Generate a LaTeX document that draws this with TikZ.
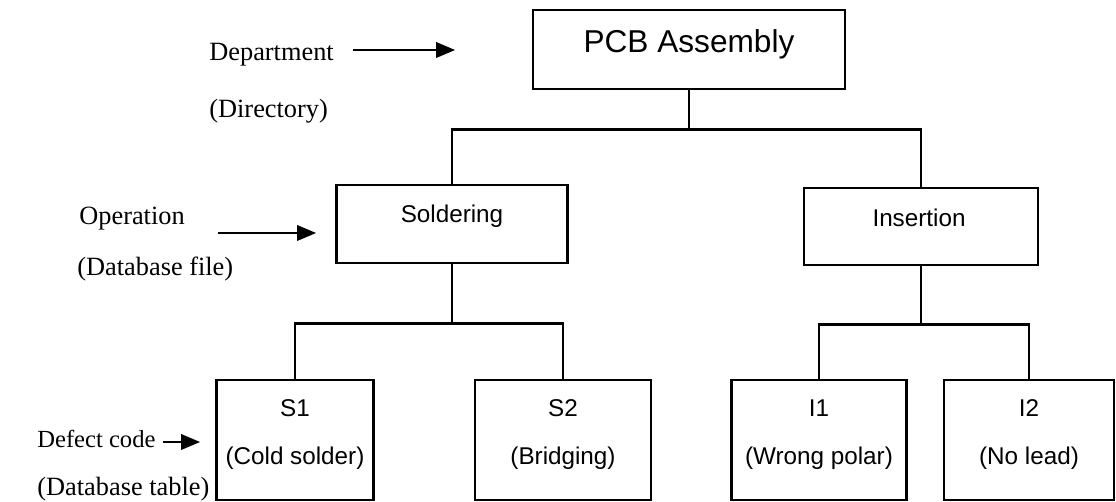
\documentclass[tikz,border=0pt]{standalone}
\usepackage{fontspec}
\setmainfont{Liberation Serif}
\setsansfont{Liberation Sans}
\usepackage{tikz}
\usetikzlibrary{calc}
\usetikzlibrary{arrows}
\tikzset{
	box/.style={draw,line width=1.5pt,inner sep=0pt},
	boxtext/.style={font=\sffamily\fontsize{13.8}{16}\selectfont,inner sep=0pt},
	toptext/.style={font=\sffamily\fontsize{18}{22}\selectfont,inner sep=0pt},
	lvl/.style={font=\fontsize{15}{18}\selectfont,inner sep=0pt,anchor=west},
	wire/.style={line width=1.5pt},
	arr/.style={line width=1.5pt,-triangle 45}
}

\begin{document}
\begin{tikzpicture}[x=0.02cm,y=-0.02cm]
					\useasboundingbox (0,0) rectangle (1116,502);
					\node[box,minimum width=6.24cm,minimum height=1.58cm] (pcb) at (689,49.5) {};
					\node[box,minimum width=4.62cm,minimum height=1.56cm] (sold) at (452,224) {};
					\node[box,minimum width=4.68cm,minimum height=1.54cm] (ins) at (921,226.5) {};
					\node[box,minimum width=3.14cm,minimum height=2.4cm] (s1) at (295,440) {};
					\node[box,minimum width=3.52cm,minimum height=2.4cm] (s2) at (563,440) {};
					\node[box,minimum width=3.5cm,minimum height=2.4cm] (i1) at (819,440) {};
					\node[box,minimum width=3.4cm,minimum height=2.4cm] (i2) at (1029,440) {};
					\node[toptext] (pcbt) at (689,44) {PCB Assembly};
					\node[boxtext] (soldt) at (452,216) {Soldering};
					\node[boxtext] (inst) at (919,218) {Insertion};
					\node[boxtext] (s1a) at (295,408) {S1};
					\node[boxtext] (s1b) at (295,458) {(Cold solder)};
					\node[boxtext] (s2a) at (563,408) {S2};
					\node[boxtext] (s2b) at (563,458) {(Bridging)};
					\node[boxtext] (i1a) at (819,408) {I1};
					\node[boxtext] (i1b) at (819,458) {(Wrong polar)};
					\node[boxtext] (i2a) at (1029,408) {I2};
					\node[boxtext] (i2b) at (1029,458) {(No lead)};
					\coordinate (bus1) at ($(pcb.south)+(0,39)$);
					\coordinate (bus2) at ($(sold.south)+(0,59)$);
					\coordinate (bus3) at ($(ins.south)+(0,58)$);
					\draw[wire] (pcb.south) -- (bus1);
					\draw[wire] (sold.north) |- (bus1) -| (ins.north);
					\draw[wire] (sold.south) -- (bus2);
					\draw[wire] (s1.north) |- (bus2) -| (s2.north);
					\draw[wire] (ins.south) -- (bus3);
					\draw[wire] (i1.north) |- (bus3) -| (i2.north);
					\node[lvl] (dept) at (209,55) {Department};
					\node[lvl] (dir) at (209,111) {(Directory)};
					\node[lvl] (oper) at (79,219) {Operation};
					\node[lvl] (dbf) at (77,269) {(Database file)};
					\node[lvl,font=\fontsize{14}{17}\selectfont] (defect) at (37,439) {Defect code};
					\node[lvl] (dbt) at (37,489) {(Database table)};
					\coordinate (dep-b) at (455,50);
					\coordinate (op-a) at (218,233);
					\coordinate (op-b) at (316,233);
					\coordinate (dc-b) at (200,442);
					\draw[arr,shorten <=19pt*0.567] (dept.east |- dep-b) -- (dep-b);
					\draw[arr] (op-a) -- (op-b);
					\draw[arr,shorten <=4pt] (defect.east |- dc-b) -- (dc-b);
				\end{tikzpicture}
\end{document}
